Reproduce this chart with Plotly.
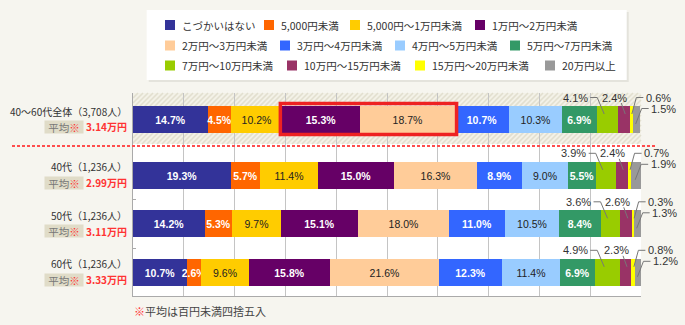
import plotly.graph_objects as go
import numpy as np

# ---------------- data ----------------
categories = ["40～60代全体（3,708人）", "40代（1,236人）", "50代（1,236人）", "60代（1,236人）"]
averages = ["3.14万円", "2.99万円", "3.11万円", "3.33万円"]

series_names = ["こづかいはない", "5,000円未満", "5,000円～1万円未満", "1万円～2万円未満",
                "2万円～3万円未満", "3万円～4万円未満", "4万円～5万円未満", "5万円～7万円未満",
                "7万円～10万円未満", "10万円～15万円未満", "15万円～20万円未満", "20万円以上"]

no_allowance = [14.7, 19.3, 14.2, 10.7]
under_5k = [4.5, 5.7, 5.3, 2.6]
k5_to_10k = [10.2, 11.4, 9.7, 9.6]
m1_to_2 = [15.3, 15.0, 15.1, 15.8]
m2_to_3 = [18.7, 16.3, 18.0, 21.6]
m3_to_4 = [10.7, 8.9, 11.0, 12.3]
m4_to_5 = [10.3, 9.0, 10.5, 11.4]
m5_to_7 = [6.9, 5.5, 8.4, 6.9]
m7_to_10 = [4.1, 3.9, 3.6, 4.9]
m10_to_15 = [2.4, 2.4, 2.6, 2.3]
m15_to_20 = [0.6, 0.7, 0.3, 0.8]
m20_plus = [1.5, 1.9, 1.3, 1.2]

series_values = [no_allowance, under_5k, k5_to_10k, m1_to_2, m2_to_3, m3_to_4,
                 m4_to_5, m5_to_7, m7_to_10, m10_to_15, m15_to_20, m20_plus]

footnote = "平均は百円未満四捨五入"

# ---------------- styles / layout ----------------
series_colors = ["#333399", "#ff6600", "#ffcc00", "#660066", "#ffcc99", "#3366ff",
                 "#99ccff", "#339966", "#99cc00", "#993366", "#ffff00", "#999999"]
label_colors = ["white", "white", "#222222", "white", "#222222", "white",
                "#222222", "white", None, None, None, None]

W, H = 685, 325
L, R, T, B = 133, 641, 93, 296
row_centers = [26.5, 82.3, 130.8, 179.3]  # px below plot top
bar_h = 27
CJK = "Noto Sans CJK JP"
LAT = "Liberation Sans"


def px(xp):
    return (xp - L) / (R - L)


def py(yp):
    return (B - yp) / (B - T)


def pct2px(p):
    return L + p * (R - L) / 100.0


fig = go.Figure()

for i, (name, vals) in enumerate(zip(series_names, series_values)):
    inside = label_colors[i] is not None
    fig.add_trace(go.Bar(
        name=name, y=row_centers, x=vals, orientation="h", width=bar_h,
        marker=dict(color=series_colors[i], line=dict(width=0)),
        text=[f"{v:.1f}%" for v in vals] if inside else None,
        textposition="inside" if inside else "none",
        insidetextanchor="middle", textangle=0,
        textfont=dict(family=LAT, size=10.5, color=label_colors[i] or "#222",
                      weight="bold" if label_colors[i] == "white" else "normal"),
        hovertemplate=name + ": %{x:.1f}%<extra></extra>",
        showlegend=False,
    ))

shapes = []
annotations = []

# hatched band behind the total row
hy0, hy1 = 93, 144
shapes.append(dict(type="rect", xref="paper", yref="paper", layer="below",
                   x0=px(L), x1=px(R), y0=py(hy1), y1=py(hy0),
                   fillcolor="#f3f1e7", line=dict(width=0)))
hh = hy1 - hy0
segs = []
for a in np.arange(L - hh, R, 5.0):
    t0 = max(0.0, L - a)
    t1 = min(hh, R - a)
    if t1 <= t0:
        continue
    xa, ya = a + t0, hy1 - t0
    xb, yb = a + t1, hy1 - t1
    segs.append(f"M{px(xa):.5f},{py(ya):.5f}L{px(xb):.5f},{py(yb):.5f}")
shapes.append(dict(type="path", xref="paper", yref="paper", layer="below",
                   path="".join(segs), line=dict(color="#e2dfcf", width=1.6)))

# legend box
lb = (146.7, 10, 626.7, 80)
shapes.append(dict(type="rect", xref="paper", yref="paper", layer="below",
                   x0=px(lb[0] + 2), x1=px(lb[2] + 2), y0=py(lb[3] + 2), y1=py(lb[1] + 2),
                   fillcolor="#e4e3dc", line=dict(width=0)))
shapes.append(dict(type="rect", xref="paper", yref="paper", layer="below",
                   x0=px(lb[0]), x1=px(lb[2]), y0=py(lb[3]), y1=py(lb[1]),
                   fillcolor="white", line=dict(width=0)))
legend_x = [[165, 264, 350, 475], [165, 280, 395, 510], [165, 287, 415, 545]]
legend_y = [25, 45.5, 65.5]
for i, name in enumerate(series_names):
    r, c = divmod(i, 4)
    x0 = legend_x[r][c]
    yc = legend_y[r]
    shapes.append(dict(type="rect", xref="paper", yref="paper",
                       x0=px(x0), x1=px(x0 + 10), y0=py(yc + 5), y1=py(yc - 5),
                       fillcolor=series_colors[i], line=dict(width=0)))
    annotations.append(dict(xref="paper", yref="paper", x=px(x0 + 14.5), y=py(yc),
                            xanchor="left", yanchor="middle", showarrow=False, text=name,
                            font=dict(family=CJK, size=10.5, color="#333")))

# red dotted separator
shapes.append(dict(type="line", xref="paper", yref="paper", x0=px(12), x1=px(655),
                   y0=py(146), y1=py(146), line=dict(color="#ff4d4d", width=2, dash="3px,2px")))

# highlight box around 1万～3万 in total row
cum0 = np.cumsum([s[0] for s in series_values])
bx0 = pct2px(cum0[2]) - 2
bx1 = pct2px(cum0[4]) + 1.5
btop = T + row_centers[0] - bar_h / 2
shapes.append(dict(type="rect", xref="paper", yref="paper",
                   x0=px(bx0), x1=px(bx1), y0=py(btop + bar_h + 1.5), y1=py(btop - 2.5),
                   line=dict(color="#ee2222", width=3.5), fillcolor="rgba(0,0,0,0)"))

# row labels, averages, leader labels
vals_arr = np.array(series_values)  # series x rows
for r, cat in enumerate(categories):
    yc = T + row_centers[r]
    top = yc - bar_h / 2
    annotations.append(dict(xref="paper", yref="paper", x=px(129), y=py(yc - 8.5),
                            xanchor="right", yanchor="middle", showarrow=False, text=cat,
                            font=dict(family=CJK, size=10, color="#333")))
    annotations.append(dict(xref="paper", yref="paper", x=px(64), y=py(yc + 7.2),
                            xanchor="center", yanchor="middle", showarrow=False,
                            text="平均<span style='color:#ff3333'>※</span>",
                            width=38, height=12, bgcolor="#e0dcc8", borderpad=0,
                            font=dict(family=CJK, size=10.5, color="#777")))
    annotations.append(dict(xref="paper", yref="paper", x=px(129), y=py(yc + 7.2),
                            xanchor="right", yanchor="middle", showarrow=False,
                            text="<b>" + averages[r] + "</b>",
                            font=dict(family=CJK, size=10, color="#ff3333")))

    cum = np.cumsum(vals_arr[:, r])
    starts = np.concatenate([[0], cum[:-1]])
    centers = [pct2px((s + e) / 2) for s, e in zip(starts, cum)]
    lab = lambda v: f"{v:.1f}%"
    lfont = dict(family=LAT, size=11, color="#333")
    lline = dict(color="#777", width=1)

    # 7万～10万
    c = centers[8]
    P = (c - 3, top + 8); K = (P[0] - 7, top - 8.5); S = (K[0] - 7, top - 8.5)
    shapes.append(dict(type="path", xref="paper", yref="paper", line=lline,
                       path=f"M{px(S[0])},{py(S[1])}L{px(K[0])},{py(K[1])}L{px(P[0])},{py(P[1])}"))
    annotations.append(dict(xref="paper", yref="paper", x=px(S[0] - 0.5), y=py(S[1]),
                            xanchor="right", yanchor="middle", showarrow=False,
                            text=lab(vals_arr[8, r]), font=lfont))
    # 10万～15万
    c = centers[9]
    shapes.append(dict(type="path", xref="paper", yref="paper", line=lline,
                       path=f"M{px(c - 2.5)},{py(top - 3)}L{px(c + 1.5)},{py(top + 8)}"))
    annotations.append(dict(xref="paper", yref="paper", x=px(c - 9), y=py(top - 8.5),
                            xanchor="center", yanchor="middle", showarrow=False,
                            text=lab(vals_arr[9, r]), font=lfont))
    # 15万～20万
    c = centers[10]
    P = (c + 0.5, top + 8); K = (c + 5, top - 8.5); S = (K[0] + 7, top - 8.5)
    shapes.append(dict(type="path", xref="paper", yref="paper", line=lline,
                       path=f"M{px(S[0])},{py(S[1])}L{px(K[0])},{py(K[1])}L{px(P[0])},{py(P[1])}"))
    annotations.append(dict(xref="paper", yref="paper", x=px(S[0] + 0.5), y=py(S[1]),
                            xanchor="left", yanchor="middle", showarrow=False,
                            text=lab(vals_arr[10, r]), font=lfont))
    # 20万以上
    c = centers[11]
    P = (c - 1, top + 18); K = (c + 5, top + 2.5); S = (K[0] + 7, top + 2.5)
    shapes.append(dict(type="path", xref="paper", yref="paper", line=lline,
                       path=f"M{px(S[0])},{py(S[1])}L{px(K[0])},{py(K[1])}L{px(P[0])},{py(P[1])}"))
    annotations.append(dict(xref="paper", yref="paper", x=px(S[0] + 0.5), y=py(S[1]),
                            xanchor="left", yanchor="middle", showarrow=False,
                            text=lab(vals_arr[11, r]), font=lfont))

# footnote
annotations.append(dict(xref="paper", yref="paper", x=px(132), y=py(311),
                        xanchor="left", yanchor="middle", showarrow=False,
                        text="<span style='color:#ff3333'>※</span>" + footnote,
                        font=dict(family=CJK, size=11, color="#444")))

fig.update_layout(
    width=W, height=H,
    margin=dict(l=L, r=W - R, t=T, b=H - B, pad=0),
    paper_bgcolor="#f6f5ef", plot_bgcolor="white",
    barmode="stack", bargap=0,
    showlegend=False,
    uniformtext=dict(minsize=10.5, mode="show"),
    shapes=shapes, annotations=annotations,
    xaxis=dict(range=[0, 100], dtick=10, tick0=0, showgrid=True, gridcolor="#c4c4c4",
               gridwidth=1, showticklabels=False, ticks="", zeroline=False,
               showline=True, linecolor="#aaaaaa", linewidth=1, fixedrange=True),
    yaxis=dict(range=[B - T, 0], showgrid=False, zeroline=False, showticklabels=False,
               showline=True, linecolor="#aaaaaa", linewidth=1,
               tickmode="array", tickvals=[106.5, 155], ticks="inside", ticklen=3,
               tickcolor="#aaaaaa", fixedrange=True),
    font=dict(family=CJK),
)

fig.write_html("out.html")
